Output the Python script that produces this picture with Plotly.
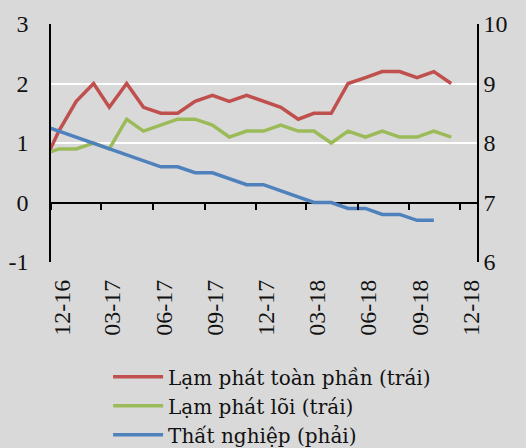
import plotly.graph_objects as go
import pandas as pd

# Monthly observations (mid-month), Nov 2016 .. Nov 2018
months = pd.date_range("2016-11-01", "2018-11-01", freq="MS") + pd.Timedelta(days=14)

headline = [0.6, 1.2, 1.7, 2.0, 1.6, 2.0, 1.6, 1.5, 1.5, 1.7, 1.8, 1.7, 1.8,
            1.7, 1.6, 1.4, 1.5, 1.5, 2.0, 2.1, 2.2, 2.2, 2.1, 2.2, 2.0]
core = [0.8, 0.9, 0.9, 1.0, 0.9, 1.4, 1.2, 1.3, 1.4, 1.4, 1.3, 1.1, 1.2,
        1.2, 1.3, 1.2, 1.2, 1.0, 1.2, 1.1, 1.2, 1.1, 1.1, 1.2, 1.1]
unemployment = [8.3, 8.2, 8.1, 8.0, 7.9, 7.8, 7.7, 7.6, 7.6, 7.5, 7.5, 7.4, 7.3,
                7.3, 7.2, 7.1, 7.0, 7.0, 6.9, 6.9, 6.8, 6.8, 6.7, 6.7, None]

names = ["Lạm phát toàn phần (trái)", "Lạm phát lõi (trái)", "Thất nghiệp (phải)"]
colors = ["#c0504d", "#9bbb59", "#4f81bd"]

left_ticks = [-1, 0, 1, 2, 3]
left_labels = ["-1", "0", "1", "2", "3"]
right_ticks = [6, 7, 8, 9, 10]
right_labels = ["6", "7", "8", "9", "10"]
x_range = ["2016-12-01", "2018-12-31"]
x_tick0 = "2016-12-01"

FONT = "Liberation Serif"
LEG_FONT = "DejaVu Serif"
FS = 24
BG = "#d9d9d9"
CLEAR = "rgba(0,0,0,0)"
NBSP = "\u00a0"

fig = go.Figure()
fig.add_trace(go.Scatter(x=months, y=headline, name=names[0], mode="lines",
                         line=dict(color=colors[0], width=3.5), xaxis="x", yaxis="y"))
fig.add_trace(go.Scatter(x=months, y=core, name=names[1], mode="lines",
                         line=dict(color=colors[1], width=3.5), xaxis="x", yaxis="y"))
fig.add_trace(go.Scatter(x=months, y=unemployment, name=names[2], mode="lines",
                         line=dict(color=colors[2], width=3.5), xaxis="x2", yaxis="y2"))

left_range = [left_ticks[0], left_ticks[-1]]
right_range = [right_ticks[0], right_ticks[-1]]
zero_pos = (0 - left_range[0]) / (left_range[1] - left_range[0])

fig.update_layout(
    width=526, height=448,
    margin=dict(l=51, r=49, t=24, b=186, autoexpand=False),
    paper_bgcolor=BG, plot_bgcolor=BG,
    font=dict(family=FONT, size=FS, color="#111111"),
    showlegend=True,
    legend=dict(orientation="v", x=0.134, xanchor="left", y=-0.40, yanchor="top",
                bgcolor=CLEAR, font=dict(size=20, family=LEG_FONT),
                itemwidth=50, tracegroupgap=0),
    xaxis=dict(type="date", range=x_range, tick0=x_tick0, dtick="M3",
               tickformat="%m-%y", tickangle=-90, ticks="", showgrid=False,
               showline=False, zeroline=False, anchor="y", ticklabelshift=11,
               ticklabelstandoff=12, tickfont=dict(size=FS)),
    xaxis2=dict(type="date", matches="x", overlaying="x", anchor="free",
                position=zero_pos, side="bottom", tick0=x_tick0, dtick="M3",
                ticks="outside", ticklen=6, tickwidth=1.5, tickcolor="black",
                showticklabels=False, showgrid=False, showline=False, zeroline=False),
    yaxis=dict(range=left_range, tickmode="array", tickvals=left_ticks, ticktext=left_labels,
               showgrid=True, gridcolor="white",
               gridwidth=1.5, zeroline=True, zerolinecolor="black", zerolinewidth=1.5,
               showline=True, linecolor="black", linewidth=1.5,
               ticks="outside", ticklen=16, tickcolor=CLEAR, tickfont=dict(size=FS)),
    yaxis2=dict(range=right_range, tickmode="array", tickvals=right_ticks, ticktext=right_labels,
                tickprefix=NBSP * 5,
                overlaying="y", side="right", anchor="x",
                showgrid=False, zeroline=False, showline=True, linecolor="black",
                linewidth=1.5, ticks="", tickfont=dict(size=FS)),
)

fig.write_html("out.html", config={"displayModeBar": False},
               post_script="document.body.style.margin='0';")
